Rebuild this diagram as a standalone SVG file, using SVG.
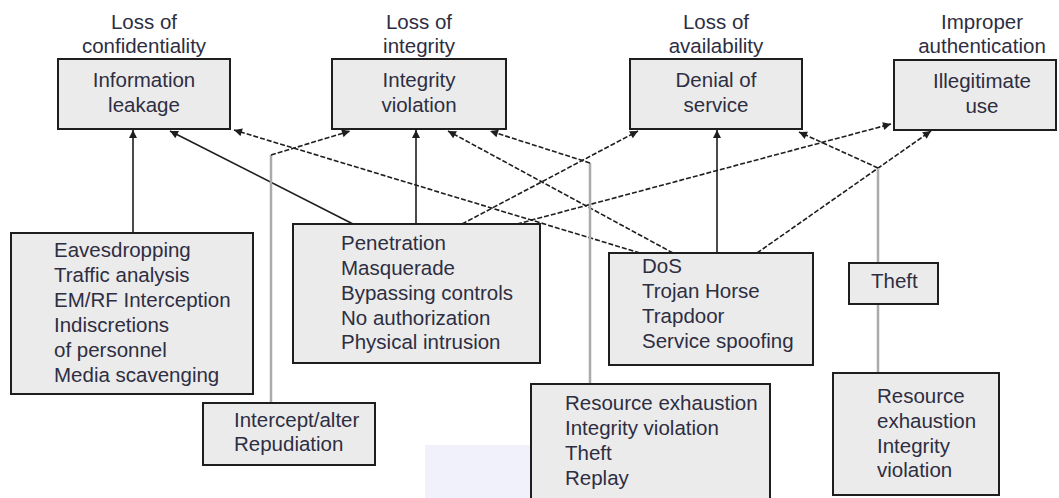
<svg xmlns="http://www.w3.org/2000/svg" width="1059" height="498" viewBox="0 0 1059 498">
  <style>
    .box { fill: #ebebeb; stroke: #1e1e1e; stroke-width: 2; }
    .t { font-family: "Liberation Sans", Arial, sans-serif; font-size: 20.5px; fill: #2e2e42; }
    .c { text-anchor: middle; }
    .solid { fill: none; stroke: #1e1e1e; stroke-width: 1.6; }
    .dash { fill: none; stroke: #1e1e1e; stroke-width: 1.6; stroke-dasharray: 5 2; }
    .grey { fill: none; stroke: #ababab; stroke-width: 2.5; }
  </style>
  <defs>
    <marker id="arrow" viewBox="0 0 10 10" refX="10" refY="5" markerWidth="10" markerHeight="8" markerUnits="userSpaceOnUse" orient="auto">
      <path d="M0,0 L10,5 L0,10 z" fill="#1e1e1e"/>
    </marker>
  </defs>

  <rect width="1059" height="498" fill="#ffffff"/>
  <!-- faint backdrop patch -->
  <rect x="425" y="445" width="106" height="53" fill="#f0f1fa"/>

  <!-- connectors -->
  <g id="connectors">
    <path class="solid" d="M133,233 L133,130" marker-end="url(#arrow)"/>
    <path class="solid" d="M416,224 L416,130" marker-end="url(#arrow)"/>
    <path class="solid" d="M717,253 L717,130" marker-end="url(#arrow)"/>
    <path class="solid" d="M353,224 L170,131" marker-end="url(#arrow)"/>
    <path class="dash" d="M640,253 L234,130" marker-end="url(#arrow)"/>
    <path class="dash" d="M673,253 L448,131" marker-end="url(#arrow)"/>
    <path class="dash" d="M462,224 L638,131" marker-end="url(#arrow)"/>
    <path class="dash" d="M517,224 L891,124" marker-end="url(#arrow)"/>
    <path class="dash" d="M757,253 L931,131" marker-end="url(#arrow)"/>
    <path class="grey" d="M271,403 L271,155"/>
    <path class="dash" d="M271,155 L350,131" marker-end="url(#arrow)"/>
    <path class="grey" d="M590,384 L590,163"/>
    <path class="dash" d="M590,163 L490,131" marker-end="url(#arrow)"/>
    <path class="grey" d="M878,373 L878,304"/>
    <path class="grey" d="M878,263 L878,168"/>
    <path class="dash" d="M878,168 L799,132" marker-end="url(#arrow)"/>
  </g>

  <!-- threat consequences -->
  <g id="info-leakage">
    <text class="t c" x="144" y="29">Loss of</text>
    <text class="t c" x="144" y="53">confidentiality</text>
    <rect class="box" x="58" y="59" width="172" height="70"/>
    <text class="t c" x="144" y="87">Information</text>
    <text class="t c" x="144" y="112">leakage</text>
  </g>
  <g id="integrity-violation">
    <text class="t c" x="419" y="29">Loss of</text>
    <text class="t c" x="419" y="53">integrity</text>
    <rect class="box" x="332" y="59" width="174" height="70"/>
    <text class="t c" x="419" y="87">Integrity</text>
    <text class="t c" x="419" y="112">violation</text>
  </g>
  <g id="denial-of-service">
    <text class="t c" x="716" y="29">Loss of</text>
    <text class="t c" x="716" y="53">availability</text>
    <rect class="box" x="630" y="59" width="172" height="70"/>
    <text class="t c" x="716" y="87">Denial of</text>
    <text class="t c" x="716" y="112">service</text>
  </g>
  <g id="illegitimate-use">
    <text class="t c" x="982" y="29">Improper</text>
    <text class="t c" x="982" y="53">authentication</text>
    <rect class="box" x="894" y="60" width="162" height="70"/>
    <text class="t c" x="982" y="88">Illegitimate</text>
    <text class="t c" x="982" y="113">use</text>
  </g>

  <!-- threats -->
  <g id="eavesdropping">
    <rect class="box" x="11" y="233" width="242" height="161"/>
    <text class="t" x="54" y="257">Eavesdropping</text>
    <text class="t" x="54" y="282">Traffic analysis</text>
    <text class="t" x="54" y="307">EM/RF Interception</text>
    <text class="t" x="54" y="332">Indiscretions</text>
    <text class="t" x="54" y="357">of personnel</text>
    <text class="t" x="54" y="382">Media scavenging</text>
  </g>
  <g id="penetration">
    <rect class="box" x="293" y="224" width="247" height="139"/>
    <text class="t" x="341" y="250">Penetration</text>
    <text class="t" x="341" y="275">Masquerade</text>
    <text class="t" x="341" y="300">Bypassing controls</text>
    <text class="t" x="341" y="325">No authorization</text>
    <text class="t" x="341" y="349">Physical intrusion</text>
  </g>
  <g id="dos">
    <rect class="box" x="609" y="253" width="204" height="112"/>
    <text class="t" x="642" y="273">DoS</text>
    <text class="t" x="642" y="298">Trojan Horse</text>
    <text class="t" x="642" y="323">Trapdoor</text>
    <text class="t" x="642" y="348">Service spoofing</text>
  </g>
  <g id="intercept">
    <rect class="box" x="203" y="403" width="172" height="62"/>
    <text class="t" x="234" y="427">Intercept/alter</text>
    <text class="t" x="234" y="451">Repudiation</text>
  </g>
  <g id="resource-exhaustion-a">
    <rect class="box" x="531" y="384" width="239" height="125"/>
    <text class="t" x="565" y="410">Resource exhaustion</text>
    <text class="t" x="565" y="435">Integrity violation</text>
    <text class="t" x="565" y="460">Theft</text>
    <text class="t" x="565" y="485">Replay</text>
  </g>
  <g id="theft">
    <rect class="box" x="849" y="263" width="89" height="41"/>
    <text class="t" x="871" y="288">Theft</text>
  </g>
  <g id="resource-exhaustion-b">
    <rect class="box" x="833" y="373" width="166" height="122"/>
    <text class="t" x="877" y="403">Resource</text>
    <text class="t" x="877" y="428">exhaustion</text>
    <text class="t" x="877" y="453">Integrity</text>
    <text class="t" x="877" y="477">violation</text>
  </g>
</svg>
